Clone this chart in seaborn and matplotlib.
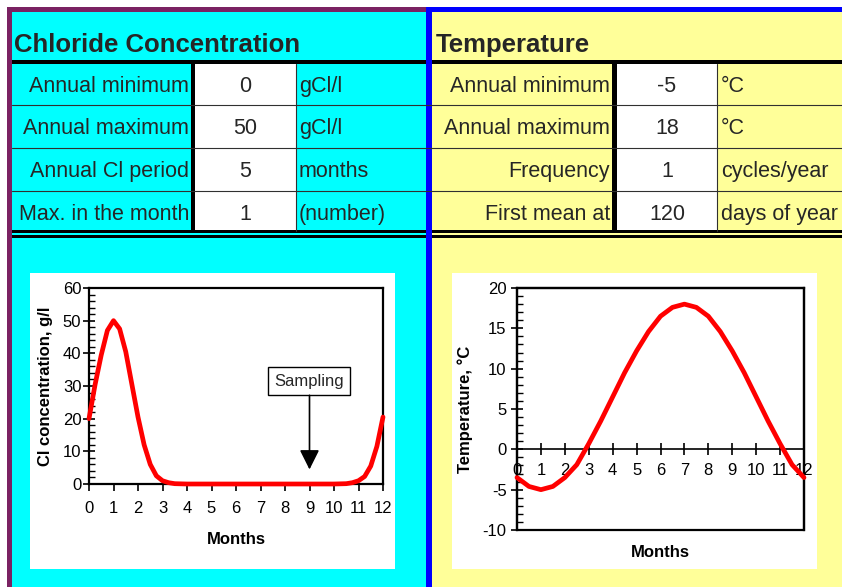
import matplotlib
matplotlib.use("Agg")
import matplotlib.pyplot as plt
import seaborn as sns
from matplotlib.patches import Rectangle
from matplotlib.ticker import MultipleLocator

# --- table content ---
chl_labels = ["Annual minimum", "Annual maximum", "Annual Cl period", "Max. in the month"]
chl_values = ["0", "50", "5", "1"]
chl_units = ["gCl/l", "gCl/l", "months", "(number)"]

temp_labels = ["Annual minimum", "Annual maximum", "Frequency", "First mean at"]
temp_values = ["-5", "18", "1", "120"]
temp_units = ["°C", "°C", "cycles/year", "days of year"]

# --- curves ---
chl_month = [0, 0.25, 0.5, 0.75, 1, 1.25, 1.5, 1.75, 2, 2.25, 2.5, 2.75, 3, 3.25, 3.5,
             4, 5, 6, 7, 8, 9, 10, 10.5, 10.75, 11, 11.25, 11.5, 11.75, 12]
chl_value = [20, 30.5, 39.5, 47, 50, 47.5, 40.5, 30.5, 20.5, 12, 6, 2.5, 1, 0.4, 0.1,
             0, 0, 0, 0, 0, 0, 0, 0.1, 0.4, 1, 2.3, 5.5, 11.5, 20.5]

temp_month = [0, 0.5, 1, 1.5, 2, 2.5, 3, 3.5, 4, 4.5, 5, 5.5, 6, 6.5, 7, 7.5, 8, 8.5,
              9, 9.5, 10, 10.5, 11, 11.5, 12]
temp_value = [-3.5, -4.6, -5, -4.6, -3.5, -1.9, 0.7, 3.5, 6.5, 9.5, 12.2, 14.6, 16.5,
              17.6, 18, 17.6, 16.5, 14.6, 12.2, 9.5, 6.5, 3.5, 0.7, -1.9, -3.5]

sns.set_style("ticks")
plt.rcParams['font.family'] = ['Liberation Sans', 'DejaVu Sans']
plt.rcParams['axes.unicode_minus'] = False

W, H = 842, 587
PURPLE = '#7a2262'
CYAN = '#00ffff'
YELLOW = '#ffff99'
BLUE = '#0000ff'

fig = plt.figure(figsize=(W / 100, H / 100), dpi=100)
fig.patch.set_facecolor('white')

# background "spreadsheet" drawn in pixel units
bg = fig.add_axes([0, 0, 1, 1])
bg.set_xlim(0, W)
bg.set_ylim(H, 0)
bg.axis('off')


def box(x0, y0, x1, y1, color):
    bg.add_patch(Rectangle((x0, y0), x1 - x0, y1 - y0, facecolor=color,
                           edgecolor='none', lw=0))


box(7, 7, 426, 12, PURPLE)
box(7, 7, 12, H, PURPLE)
box(12, 12, 426, H, CYAN)
box(432, 12, W, H, YELLOW)
box(426, 7, W, 12, BLUE)

# white value cells
box(195, 64, 296, 231, 'white')
box(617, 64, 717, 231, 'white')

# grid lines
for y in [105.3, 148, 190.7]:
    bg.plot([12, W], [y, y], color='#303030', lw=0.8)
for x in [296, 717]:
    bg.plot([x, x], [64, 231], color='#303030', lw=0.8)
box(12, 60, W, 64, 'black')
box(12, 229.5, W, 232.5, 'black')
box(12, 234.5, W, 238, 'black')
box(191, 60, 195, 232, 'black')
box(612, 60, 617, 232, 'black')
box(426, 7, 432, H, BLUE)

# chart backgrounds
box(30, 273, 395, 569, 'white')
box(452, 273, 817, 569, 'white')

# titles
bg.text(14, 52, "Chloride Concentration", fontsize=18.5, fontweight='bold', va='baseline')
bg.text(436, 52, "Temperature", fontsize=18.5, fontweight='bold', va='baseline')

baselines = [92, 134, 177, 220]
for i, yb in enumerate(baselines):
    bg.text(189, yb, chl_labels[i], fontsize=15.5, ha='right', va='baseline')
    bg.text(245, yb, chl_values[i], fontsize=15.5, ha='center', va='baseline')
    bg.text(299, yb, chl_units[i], fontsize=15.5, ha='left', va='baseline')
    bg.text(610, yb, temp_labels[i], fontsize=15.5, ha='right', va='baseline')
    bg.text(667, yb, temp_values[i], fontsize=15.5, ha='center', va='baseline')
    bg.text(721, yb, temp_units[i], fontsize=15.5, ha='left', va='baseline')

# --- chloride chart ---
ax1 = fig.add_axes([89 / W, 1 - 484 / H, 294 / W, 196 / H])
ax1.set_facecolor('white')
sns.lineplot(x=chl_month, y=chl_value, ax=ax1, color='red', lw=3.4, zorder=5, clip_on=False)
ax1.set_xlim(0, 12)
ax1.set_ylim(0, 60)
ax1.set_xticks(range(0, 13))
ax1.set_yticks(range(0, 61, 10))
ax1.yaxis.set_minor_locator(MultipleLocator(2))
ax1.tick_params(axis='x', direction='out', length=5, width=1.2, pad=7,
                labelsize=12, color='black', labelcolor='black')
ax1.tick_params(axis='y', which='major', direction='inout', length=9, width=1.2, pad=1,
                labelsize=12, color='black', labelcolor='black')
ax1.tick_params(axis='y', which='minor', direction='in', length=4, width=1, color='black')
for s in ax1.spines.values():
    s.set_color('black')
    s.set_linewidth(1.6)
ax1.set_xlabel("Months", fontsize=12, fontweight='bold', color='black')
ax1.set_ylabel("Cl concentration, g/l", fontsize=12, fontweight='bold', color='black')
ax1.xaxis.set_label_coords(0.5, -0.245)
ax1.yaxis.set_label_coords(-0.122, 0.5)

ax1.text(8.98, 31.5, "Sampling", fontsize=12, ha='center', va='center', zorder=6,
         bbox=dict(boxstyle='square,pad=0.38', facecolor='white', edgecolor='black', lw=1))
ax1.annotate('', xy=(9, 3.6), xytext=(9, 28),
             arrowprops=dict(arrowstyle='-|>', mutation_scale=30, lw=1.2, color='black'),
             zorder=7)

# --- temperature chart ---
ax2 = fig.add_axes([517 / W, 1 - 530 / H, 287 / W, 242 / H])
ax2.set_facecolor('white')
sns.lineplot(x=temp_month, y=temp_value, ax=ax2, color='red', lw=3.4, zorder=5, clip_on=False)
ax2.set_xlim(0, 12)
ax2.set_ylim(-10, 20)
ax2.set_xticks(range(0, 13))
ax2.set_yticks(range(-10, 21, 5))
ax2.yaxis.set_minor_locator(MultipleLocator(1))
ax2.spines['bottom'].set_position(('data', 0))
ax2.patch.set_edgecolor('black')
ax2.patch.set_linewidth(1.6)
ax2.tick_params(axis='x', direction='inout', length=9, width=1.2, pad=5,
                labelsize=12, color='black', labelcolor='black')
ax2.tick_params(axis='y', which='major', direction='inout', length=9, width=1.2, pad=3,
                labelsize=12, color='black', labelcolor='black')
ax2.tick_params(axis='y', which='minor', direction='in', length=4, width=1, color='black')
for name, s in ax2.spines.items():
    s.set_color('black')
    s.set_linewidth(1.6)
ax2.spines['bottom'].set_linewidth(1.2)
ax2.set_xlabel("Months", fontsize=12, fontweight='bold', color='black')
ax2.set_ylabel("Temperature, °C", fontsize=12, fontweight='bold', color='black')
ax2.xaxis.set_label_coords(0.5, -0.062)
ax2.yaxis.set_label_coords(-0.153, 0.5)

fig.savefig("out.png", dpi=100)
